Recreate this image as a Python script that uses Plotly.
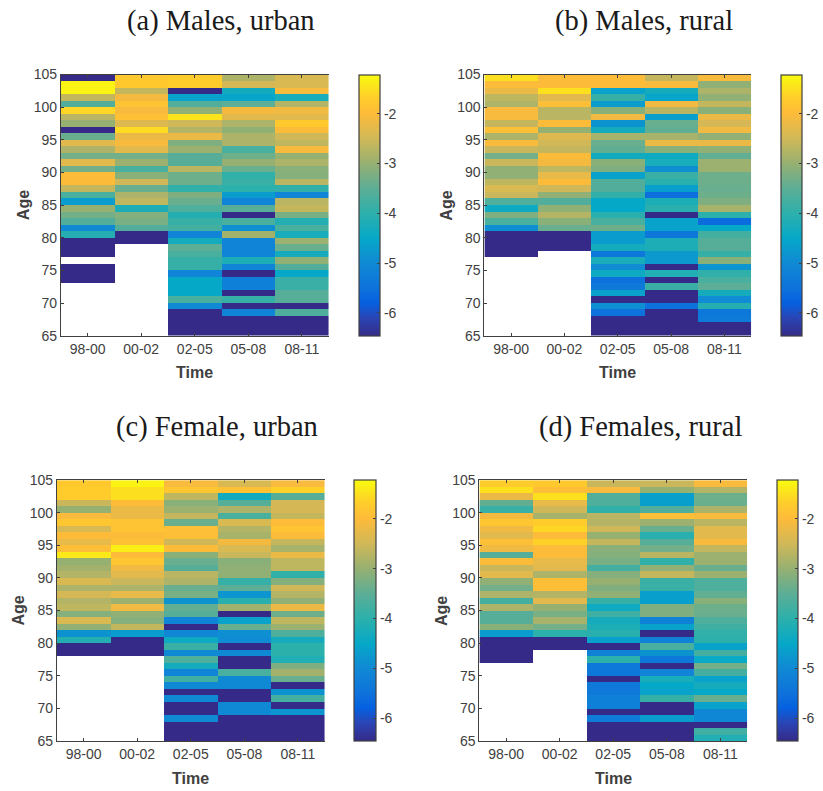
import plotly.graph_objects as go

D = -6.46   # darkest colour: floor of the scale
N = None    # no data

periods = ["98-00", "00-02", "02-05", "05-08", "08-11"]
ages = list(range(104, 64, -1))  # top row first
cbar_ticks = [-2, -3, -4, -5, -6]
cbar_labels = ["-2", "-3", "-4", "-5", "-6"]
age_ticks = [65, 70, 75, 80, 85, 90, 95, 100, 105]

mu_9800 = [D,-1.3,-1.3,-2.6,-3.6,-1.6,-2.7,-3.0,D,-3.4,-2.3,-2.8,-3.3,-2.3,-3.3,-2.0,-2.0,-2.6,-3.7,-4.7,
           -3.0,-3.3,-3.6,-5.0,-4.1,D,D,D,N,D,D,D,N,N,N,N,N,N,N,N]
mu_0002 = [-1.75,-1.75,-2.6,-2.1,-1.85,-2.05,-1.9,-2.35,-1.55,-2.2,-2.05,-2.3,-3.3,-2.95,-3.7,-3.1,-2.5,-3.4,-2.8,-2.65,
           -4.2,-3.15,-3.25,-3.6,D,D,N,N,N,N,N,N,N,N,N,N,N,N,N,N]
mu_0205 = [-1.7,-1.7,D,-4.6,-3.6,-3.05,-1.45,-2.5,-2.75,-2.2,-3.2,-2.95,-3.55,-3.55,-2.7,-3.35,-3.35,-3.95,-3.2,-3.4,
           -3.65,-4.1,-3.9,-3.75,-5.1,-4.3,-3.5,-3.7,-3.9,-3.9,-5.1,-4.5,-4.5,-4.5,-3.7,-5.0,D,D,D,D]
mu_0508 = [-2.8,-2.45,-4.35,-4.55,-3.5,-2.1,-2.3,-2.8,-3.05,-2.8,-2.8,-3.7,-3.35,-3.0,-3.4,-3.95,-3.85,-4.0,-4.7,-5.1,
           -3.55,D,-3.7,-4.9,-2.9,-5.1,-5.1,-5.1,-4.2,-5.1,D,-5.2,-5.2,D,-3.9,D,-5.1,D,D,D]
mu_0811 = [-2.4,-2.4,-2.05,-4.25,-2.75,-2.15,-2.3,-1.75,-2.0,-2.5,-2.65,-2.05,-3.0,-2.8,-3.1,-3.15,-2.7,-3.95,-5.1,-2.7,
           -2.6,-3.25,-4.1,-3.7,-4.25,-2.95,-3.4,-4.3,-3.05,-3.6,-4.5,-3.85,-3.85,-3.55,-3.55,D,-3.65,D,D,D]

mr_9800 = [-1.5,-2.0,-2.2,-2.65,-2.8,-2.05,-2.05,-2.6,-1.95,-2.8,-2.05,-2.55,-3.3,-2.55,-3.05,-3.05,-2.65,-2.4,-2.55,-3.65,
           -4.4,-3.2,-3.7,-4.9,D,D,D,D,N,N,N,N,N,N,N,N,N,N,N,N]
mr_0002 = [-2.0,-2.0,-1.5,-2.3,-1.95,-2.7,-2.7,-2.0,-3.0,-2.35,-2.5,-2.6,-2.0,-2.1,-2.65,-2.25,-2.0,-2.5,-3.05,-3.6,
           -3.05,-2.75,-3.1,-3.4,D,D,D,N,N,N,N,N,N,N,N,N,N,N,N,N]
mr_0205 = [-2.0,-2.0,-4.6,-3.9,-4.7,-3.1,-2.15,-4.85,-4.3,-2.85,-3.4,-3.45,-4.35,-3.1,-3.2,-4.6,-3.6,-3.6,-3.95,-4.5,
           -4.5,-4.05,-3.7,-3.35,-4.7,-4.7,-4.3,-5.4,-4.25,-4.95,-4.4,-5.5,-5.35,-4.6,D,-4.9,-5.5,D,D,D]
mr_0508 = [-2.6,-2.05,-4.3,-4.55,-2.15,-2.7,-4.65,-3.4,-3.45,-2.85,-2.2,-3.1,-4.4,-4.25,-4.9,-3.85,-4.05,-4.65,-5.55,-4.2,
           -4.05,D,-4.6,-4.6,-5.4,-4.2,-4.2,-4.75,-4.75,D,-4.15,D,-3.85,D,D,-5.5,D,D,D,D]
mr_0811 = [-2.05,-3.05,-2.8,-3.05,-2.6,-3.1,-2.2,-2.45,-2.15,-3.05,-2.2,-3.05,-3.45,-2.95,-2.95,-3.35,-3.35,-3.4,-3.35,-3.2,
           -2.85,-4.0,-5.6,-4.5,-3.75,-3.55,-3.55,-3.9,-3.1,-4.8,-3.95,-3.7,-3.5,-4.3,-4.95,-4.1,-5.4,-5.3,D,D]

fu_9800 = [-1.75,-1.7,-1.7,-2.55,-3.0,-2.05,-1.8,-2.4,-2.0,-2.25,-1.95,-1.4,-3.0,-2.9,-2.75,-2.4,-2.8,-2.45,-2.75,-2.65,
           -3.15,-2.4,-3.05,-4.85,-4.1,D,D,N,N,N,N,N,N,N,N,N,N,N,N,N]
fu_0002 = [-1.3,-1.5,-1.5,-2.0,-2.2,-2.2,-1.85,-1.85,-2.0,-1.9,-1.35,-2.0,-1.8,-2.15,-2.3,-2.55,-2.8,-2.25,-2.95,-2.15,
           -3.05,-3.15,-2.6,-4.7,D,D,D,N,N,N,N,N,N,N,N,N,N,N,N,N]
fu_0205 = [-2.05,-1.8,-2.65,-3.1,-2.95,-2.6,-3.4,-1.95,-1.95,-2.5,-2.0,-3.1,-3.4,-3.55,-2.7,-2.8,-3.4,-3.25,-4.85,-3.45,
           -3.55,-5.1,D,-5.05,-4.4,-3.85,-5.0,-3.65,-4.3,-5.1,-3.8,-5.0,D,-5.0,D,D,-5.0,D,D,D]
fu_0508 = [-2.4,-1.9,-4.35,-3.55,-2.8,-3.7,-2.4,-2.75,-2.85,-2.1,-2.4,-2.55,-3.1,-3.05,-3.05,-3.9,-3.5,-4.8,-4.05,-2.9,
           D,-4.6,-3.4,-4.9,-4.95,D,-5.0,D,D,-3.7,-5.0,-5.0,D,D,-5.0,-5.0,D,D,D,D]
fu_0811 = [-2.05,-1.65,-3.55,-2.45,-2.45,-2.6,-2.0,-1.85,-2.0,-2.6,-2.85,-2.2,-2.65,-2.65,-3.95,-3.15,-2.5,-2.75,-3.05,-2.2,
           -3.35,-2.65,-2.95,-3.65,-4.3,-4.0,-4.0,-4.15,-3.2,-2.9,-3.4,D,-4.85,-3.75,D,-4.8,D,D,D,D]

fr_9800 = [-1.7,-1.5,-2.2,-3.45,-3.85,-2.1,-1.8,-2.15,-2.3,-1.95,-2.15,-3.55,-2.0,-2.55,-2.3,-3.05,-3.3,-2.8,-3.75,-2.8,
           -3.55,-3.55,-3.1,-4.7,D,D,D,D,N,N,N,N,N,N,N,N,N,N,N,N]
fr_0002 = [-1.75,-1.95,-1.5,-2.25,-2.5,-2.85,-1.7,-1.6,-2.0,-1.65,-2.0,-2.0,-2.25,-2.3,-2.8,-1.95,-1.95,-2.75,-2.3,-3.0,
           -3.25,-2.85,-3.3,-4.0,D,D,N,N,N,N,N,N,N,N,N,N,N,N,N,N]
fr_0205 = [-2.55,-2.05,-3.6,-3.65,-3.95,-2.7,-2.75,-2.5,-3.0,-2.6,-3.1,-3.15,-3.25,-3.75,-3.15,-3.0,-3.2,-3.05,-3.9,-4.4,
           -3.8,-4.3,-4.2,-4.05,-4.65,D,-5.15,-4.0,-5.4,-5.4,D,-5.35,-5.35,-5.2,-5.2,D,-5.3,D,D,D]
fr_0508 = [-2.55,-3.0,-4.65,-4.65,-3.6,-1.95,-2.95,-3.4,-4.05,-3.55,-3.3,-2.7,-3.95,-3.05,-2.6,-3.85,-3.85,-4.65,-4.65,-3.2,
           -3.2,-5.15,-4.6,D,-5.15,-3.7,-4.85,-5.4,D,-5.1,-4.25,-4.5,-4.6,-3.9,D,D,-4.7,D,D,D]
fr_0811 = [-2.05,-2.75,-3.35,-3.4,-2.8,-2.05,-2.7,-2.3,-2.3,-2.05,-2.6,-2.95,-2.95,-3.4,-2.95,-3.65,-3.65,-3.45,-3.1,-3.35,
           -3.4,-3.65,-3.8,-3.95,-4.0,-4.6,-3.75,-4.45,-3.3,-3.75,-4.6,-4.3,-4.5,-3.4,-4.6,-5.05,-5.05,D,-3.8,-4.15]

panels = [
    ("(a) Males, urban", [mu_9800, mu_0002, mu_0205, mu_0508, mu_0811]),
    ("(b) Males, rural", [mr_9800, mr_0002, mr_0205, mr_0508, mr_0811]),
    ("(c) Female, urban", [fu_9800, fu_0002, fu_0205, fu_0508, fu_0811]),
    ("(d) Females, rural", [fr_9800, fr_0002, fr_0205, fr_0508, fr_0811]),
]

W, H = 823, 791
ZMIN, ZMAX = -6.46, -1.22
stops = [(-6.46, "#352a87"), (-6.1, "#2a45b5"), (-5.8, "#0560e0"), (-5.5, "#0e72dc"), (-5.0, "#1089d4"),
         (-4.5, "#06a8c8"), (-4.0, "#2cb0ab"), (-3.5, "#5cae96"), (-3.0, "#96b072"), (-2.5, "#d0b858"),
         (-2.0, "#fdbb3a"), (-1.7, "#ffcc2c"), (-1.22, "#f9fb0e")]
cscale = [[(v - ZMIN) / (ZMAX - ZMIN), c] for v, c in stops]

# colourbars reserve about 9 px above and below the paper area
TOP_PUSH = 8.6
PAPER_H = 773.8


def fy(px):
    return 1 - (px - TOP_PUSH) / PAPER_H


# plot box (left, right, top, bottom), colourbar (left, width), title centre x, title y, in pixels
boxes = [
    (61, 329, 75, 336, 359, 21, 221, 22),
    (485, 752, 75, 336, 782, 21, 645, 22),
    (57, 325, 480, 740.5, 354, 22, 217, 427),
    (480, 748, 480, 740.5, 778, 21, 641, 427),
]
INK = "#404040"
fig = go.Figure()
annos = []
for i, ((title, cols), b) in enumerate(zip(panels, boxes)):
    l, r, t, bm, cl, cw, tx, ty = b
    n = "" if i == 0 else str(i + 1)
    z = [[cols[c][row] for c in range(5)] for row in range(len(ages))]
    fig.add_trace(go.Heatmap(
        z=z, x=periods, y=[a + 0.5 for a in ages], xaxis="x" + n, yaxis="y" + n,
        colorscale=cscale, zmin=ZMIN, zmax=ZMAX, hoverongaps=False,
        colorbar=dict(
            x=cl / W, xanchor="left", xpad=0, ypad=0,
            y=fy(bm), yanchor="bottom", len=(bm - t) / PAPER_H, lenmode="fraction",
            thickness=cw, thicknessmode="pixels",
            tickvals=cbar_ticks, ticktext=cbar_labels, ticks="inside", ticklen=3,
            tickcolor=INK, tickfont=dict(family="Liberation Sans", size=14, color=INK),
            outlinecolor=INK, outlinewidth=1.2),
    ))
    fig.update_layout(**{
        "xaxis" + n: dict(
            domain=[l / W, r / W], anchor="y" + n, type="category", side="bottom",
            showgrid=False, zeroline=False, ticks="inside", ticklen=3, tickcolor=INK,
            tickangle=0, showline=True, linecolor=INK, linewidth=1, mirror="ticks",
            tickfont=dict(family="Liberation Sans", size=14, color=INK)),
        "yaxis" + n: dict(
            domain=[fy(bm), fy(t)], anchor="x" + n, range=[65, 105],
            tickvals=age_ticks, showgrid=False, zeroline=False, ticks="inside", ticklen=3,
            tickcolor=INK, showline=True, linecolor=INK, linewidth=1, mirror=False,
            tickfont=dict(family="Liberation Sans", size=14, color=INK)),
    })
    annos.append(dict(text=title, x=tx / W, y=fy(ty), xref="paper", yref="paper",
                      xanchor="center", yanchor="middle", showarrow=False,
                      font=dict(family="Liberation Serif", size=28.5, color="#1a1a1a")))
    annos.append(dict(text="<b>Time</b>", x=(l + r) / 2 / W, y=fy(bm + 37), xref="paper", yref="paper",
                      xanchor="center", yanchor="middle", showarrow=False,
                      font=dict(family="Liberation Sans", size=16, color=INK)))
    annos.append(dict(text="<b>Age</b>", x=(l - 38) / W, y=fy((t + bm) / 2), xref="paper", yref="paper",
                      xanchor="center", yanchor="middle", showarrow=False, textangle=-90,
                      font=dict(family="Liberation Sans", size=16, color=INK)))

fig.update_layout(width=W, height=H, autosize=False, margin=dict(l=0, r=0, t=0, b=0),
                  paper_bgcolor="white", plot_bgcolor="white", annotations=annos, showlegend=False)
fig.write_html("out.html", config={"displayModeBar": False},
               post_script="document.body.style.margin='0';document.body.style.overflow='hidden';")
